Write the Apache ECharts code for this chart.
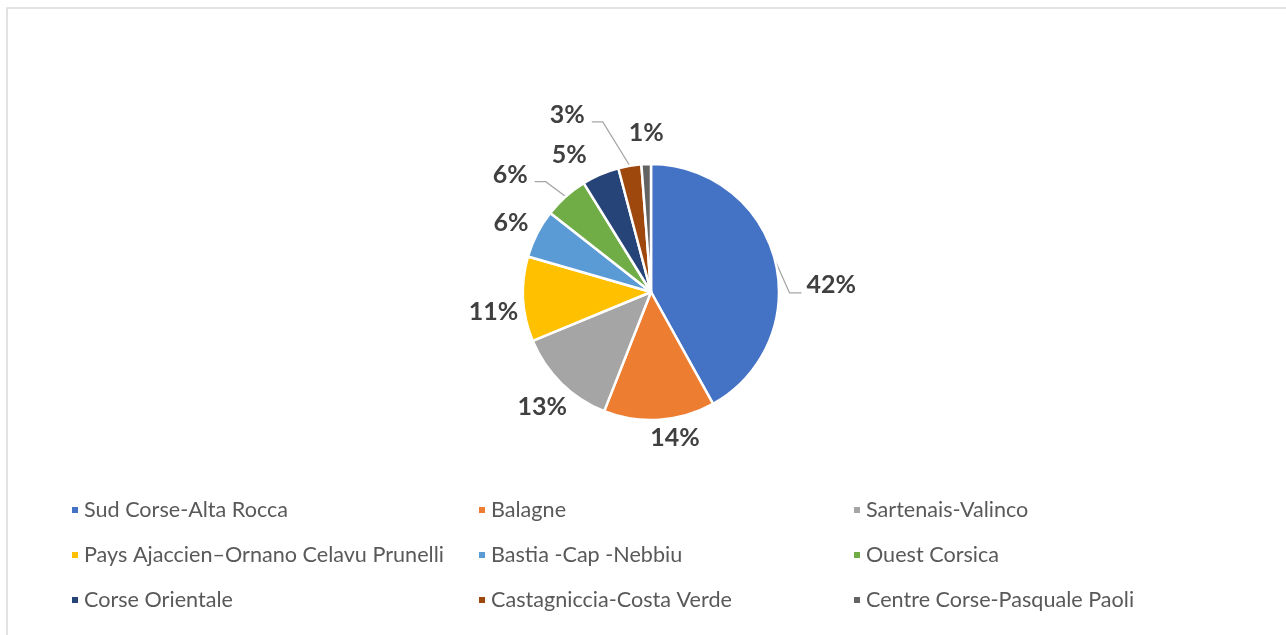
<!DOCTYPE html>
<html>
<head>
<meta charset="utf-8">
<script src="https://cdn.jsdelivr.net/npm/echarts@6/dist/echarts.min.js"></script>
<style>
  html, body { margin: 0; padding: 0; background: #fff; }
  #pie_chart { width: 1286px; height: 635px; }
</style>
</head>
<body>
<div id="pie_chart"></div>
<script>
var regions = [
  "Sud Corse-Alta Rocca",
  "Balagne",
  "Sartenais-Valinco",
  "Pays Ajaccien\u2013Ornano Celavu Prunelli",
  "Bastia -Cap -Nebbiu",
  "Ouest Corsica",
  "Corse Orientale",
  "Castagniccia-Costa Verde",
  "Centre Corse-Pasquale Paoli"
];
var shares = [41.9, 14.0, 12.8, 10.7, 6.1, 5.6, 4.7, 2.9, 1.2];
var colors = ["#4472C4", "#ED7D31", "#A5A5A5", "#FFC000", "#5B9BD5", "#70AD47", "#264478", "#9E480E", "#636363"];
// leader lines only where the label sits away from the slice
var showLine = [true, false, false, false, false, true, false, true, false];
// small nudges of each label away from the default outside spot (px)
var nudgeX = [7, -23, 27, 20, 15, -17, 4, -30, 31];
var nudgeY = [28, 6, 15, 12, -5, -13, -8, -39, -19];

var chartDom = document.getElementById("pie_chart");
var myChart = echarts.init(chartDom);
var option;

var pieData = regions.map(function (name, i) {
  return {
    name: name,
    value: shares[i],
    labelLine: { show: showLine[i] }
  };
});

// legend in three columns, filled row by row
function legendColumn(col, left) {
  return {
    orient: "vertical",
    left: left,
    top: 494,
    itemWidth: 8,
    itemHeight: 8,
    itemGap: 23,
    icon: "rect",
    textStyle: {
      color: "#595959",
      fontSize: 21.6,
      lineHeight: 22,
      fontFamily: "Lato"
    },
    data: regions.filter(function (n, i) { return i % 3 === col; })
  };
}

// move the label, then redraw its leader line from the slice edge to the label side
function placeLabel(p) {
  var i = p.dataIndex;
  var dx = nudgeX[i], dy = nudgeY[i];
  var r = p.labelRect;
  var res = { dx: dx, dy: dy };
  if (showLine[i] && p.labelLinePoints) {
    var start = p.labelLinePoints[0];
    var cy = r.y + dy + r.height / 2;
    var end, bend;
    if (start[0] > r.x + dx) {
      // label on the left of its slice
      end = [r.x + dx + r.width + 7, cy + 7];
      bend = [end[0] + 11, end[1]];
    } else {
      end = [r.x + dx - 5, cy + 8];
      bend = [end[0] - 12, end[1]];
    }
    res.labelLinePoints = [start, bend, end];
  }
  return res;
}

option = {
  color: colors,
  graphic: [
    {
      type: "rect",
      shape: { x: 7, y: 8, width: 1300, height: 650 },
      style: { fill: "none", stroke: "#d9d9d9", lineWidth: 1.5 },
      silent: true
    }
  ],
  legend: [legendColumn(0, 65), legendColumn(1, 472), legendColumn(2, 847)],
  series: [
    {
      type: "pie",
      center: [651, 292],
      radius: 128,
      startAngle: 90,
      clockwise: true,
      avoidLabelOverlap: false,
      itemStyle: { borderColor: "#fff", borderWidth: 2.5 },
      label: {
        show: true,
        position: "outside",
        formatter: function (p) { return Math.round(p.percent) + "%"; },
        color: "#404040",
        fontSize: 25,
        fontWeight: "bold",
        fontFamily: "Lato"
      },
      labelLine: {
        length: 12,
        length2: 8,
        lineStyle: { color: "#a6a6a6", width: 1.3 }
      },
      labelLayout: placeLabel,
      data: pieData
    }
  ]
};

option && myChart.setOption(option);
</script>
</body>
</html>
